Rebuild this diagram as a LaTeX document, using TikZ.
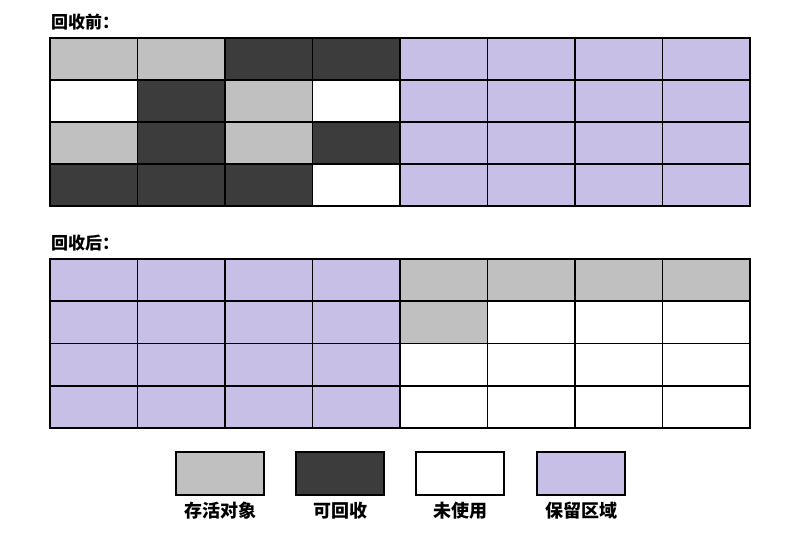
\documentclass[tikz,border=0pt]{standalone}
\usepackage{fontspec}
\newfontfamily\cjk{Noto Sans CJK SC}
\usepackage{xcolor}
\usepackage{tikz}
\usetikzlibrary{positioning}
\definecolor{live}{HTML}{C0C0C0}
\definecolor{dead}{HTML}{3C3C3C}
\definecolor{free}{HTML}{FFFFFF}
\definecolor{resv}{HTML}{C7BFE6}
\tikzset{
  cell/.style={draw=black, line width=1.6pt, inner sep=0pt,
               minimum width=87.5pt, minimum height=42pt},
  keybox/.style={draw=black, line width=1.6pt, inner sep=0pt,
                 minimum width=88pt, minimum height=43pt},
  ttl/.style={font=\cjk\bfseries\fontsize{17}{20}\selectfont, anchor=west,
              inner sep=0pt},
  keylbl/.style={font=\cjk\bfseries\fontsize{18}{21}\selectfont, inner sep=0pt},
}
\begin{document}
\begin{tikzpicture}[x=1pt, y=-1pt]
\useasboundingbox (0,0) rectangle (800,540);

% ---- 回收前 ----
\node[ttl] (tbefore) at (51,22) {回收前：};
\foreach \row [count=\r] in {{live,live,dead,dead,resv,resv,resv,resv},
                              {free,dead,live,free,resv,resv,resv,resv},
                              {live,dead,live,dead,resv,resv,resv,resv},
                              {dead,dead,dead,free,resv,resv,resv,resv}}
  \foreach \s [count=\c] in \row
    \node[cell, fill=\s] (b-\r-\c) at ({50+87.5*(\c-0.5)}, {38+42*(\r-0.5)}) {};

% ---- 回收后 ----
\node[ttl] (tafter) at (51,243) {回收后：};
\foreach \row [count=\r] in {{resv,resv,resv,resv,live,live,live,live},
                              {resv,resv,resv,resv,live,free,free,free},
                              {resv,resv,resv,resv,free,free,free,free},
                              {resv,resv,resv,resv,free,free,free,free}}
  \foreach \s [count=\c] in \row
    \node[cell, fill=\s] (a-\r-\c) at ({50+87.5*(\c-0.5)}, {259+42.25*(\r-0.5)}) {};

% ---- 图例 ----
\node[keybox, fill=live] (klive) at (220,473.5) {};
\node[keybox, fill=dead] (kdead) at (340,473.5) {};
\node[keybox, fill=free] (kfree) at (460,473.5) {};
\node[keybox, fill=resv] (kresv) at (581,473.5) {};
\node[keylbl, below=6pt of klive] (llive) {存活对象};
\node[keylbl, below=6pt of kdead] (ldead) {可回收};
\node[keylbl, below=6pt of kfree] (lfree) {未使用};
\node[keylbl, below=6pt of kresv] (lresv) {保留区域};

\end{tikzpicture}
\end{document}
